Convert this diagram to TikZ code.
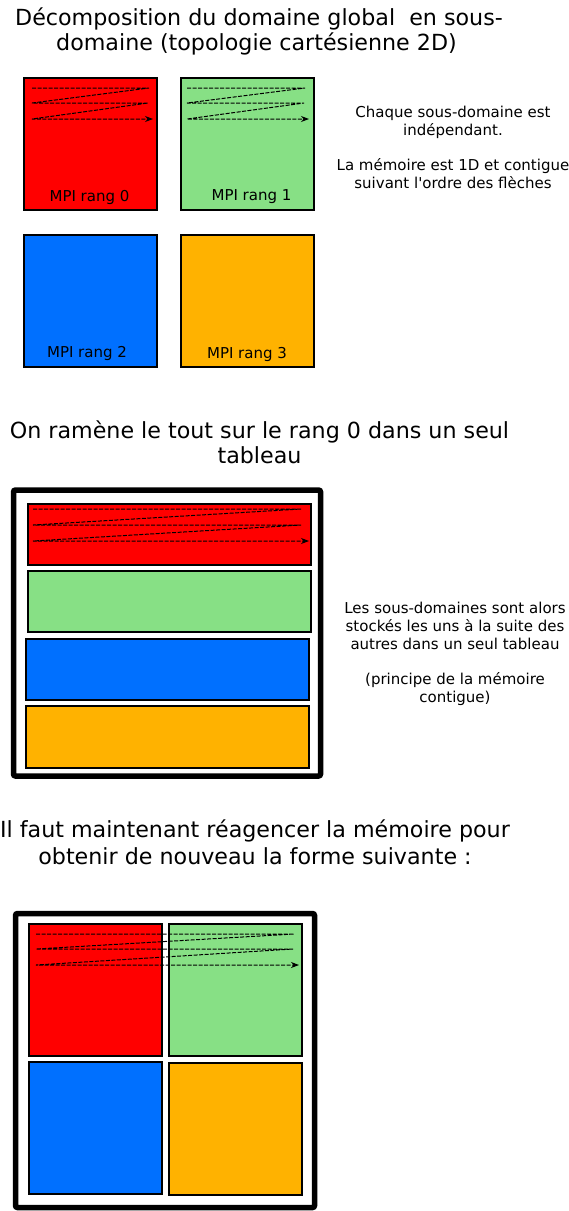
\documentclass[tikz,border=0pt]{standalone}
\usepackage{fontspec}
\setmainfont{DejaVu Sans}
\usetikzlibrary{arrows.meta}
\definecolor{cred}{HTML}{FF0000}
\definecolor{cgreen}{HTML}{87E085}
\definecolor{cblue}{HTML}{0070FF}
\definecolor{corange}{HTML}{FFB200}
\begin{document}
\begin{tikzpicture}[x=1pt,y=-1pt,
  box/.style={draw=black, line width=2pt, inner sep=0pt, outer sep=0pt},
  frame/.style={draw=black, line width=5.5pt, rounded corners=2pt, fill=white},
  zig/.style={dash pattern=on 4pt off 1.5pt, line width=1pt, line join=bevel},
  tip/.style={-{Stealth[length=8pt,width=6pt]}},
  title/.style={font=\fontsize{22.2}{26}\selectfont, anchor=base, inner sep=0pt},
  note/.style={font=\fontsize{15}{18}\selectfont, anchor=base, inner sep=0pt},
  lbl/.style={font=\fontsize{15}{18}\selectfont, anchor=base, inner sep=0pt}]
\useasboundingbox (0,0) rectangle (568,1211);

% ---------- Section 1 ----------
\node[title] (t1a) at (259,25) {Décomposition du domaine global\ \ en sous-};
\node[title] (t1b) at (256.5,50) {domaine (topologie cartésienne 2D)};

\node[box, fill=cred,    minimum width=133pt, minimum height=132pt] (r0) at (90.5,144) {};
\node[box, fill=cgreen,  minimum width=133pt, minimum height=132pt] (g1) at (247.5,144) {};
\node[box, fill=cblue,   minimum width=133pt, minimum height=132pt] (b2) at (90.5,301) {};
\node[box, fill=corange, minimum width=133pt, minimum height=132pt] (o3) at (247.5,301) {};

\node[lbl] (l0) at (89.5,201.5) {MPI rang 0};
\node[lbl] (l1) at (251.5,200) {MPI rang 1};
\node[lbl] (l2) at (87,357.5) {MPI rang 2};
\node[lbl] (l3) at (247,358) {MPI rang 3};

\coordinate (ra1) at (32,88);  \coordinate (ra2) at (149,88);
\coordinate (ra3) at (32,103); \coordinate (ra4) at (148,103);
\coordinate (ra5) at (32,119); \coordinate (ra6) at (153,119);
\draw[zig,tip] (ra1) -- (ra2) -- (ra3) -- (ra4) -- (ra5) -- (ra6);

\coordinate (ga1) at (187,88);  \coordinate (ga2) at (305,88);
\coordinate (ga3) at (187,103); \coordinate (ga4) at (304,103);
\coordinate (ga5) at (187,119); \coordinate (ga6) at (309,119);
\draw[zig,tip] (ga1) -- (ga2) -- (ga3) -- (ga4) -- (ga5) -- (ga6);

\node[note] (n1a) at (453,117) {Chaque sous-domaine est};
\node[note] (n1b) at (453,135) {indépendant.};
\node[note] (n1c) at (453,170) {La mémoire est 1D et contigue};
\node[note] (n1d) at (453,188) {suivant l\textquotesingle ordre des flèches};

% ---------- Section 2 ----------
\node[title] (t2a) at (259.5,438) {On ramène le tout sur le rang 0 dans un seul};
\node[title] (t2b) at (259.5,463) {tableau};

\node[frame, minimum width=307pt, minimum height=286pt, inner sep=0pt] (f2) at (167,633) {};
\node[box, fill=cred,    minimum width=282.5pt, minimum height=61pt] (s0) at (169.25,534.5) {};
\node[box, fill=cgreen,  minimum width=282.5pt, minimum height=61pt] (s1) at (169.25,601.25) {};
\node[box, fill=cblue,   minimum width=283pt,   minimum height=61pt] (s2) at (167.5,669.5) {};
\node[box, fill=corange, minimum width=283pt,   minimum height=61.5pt] (s3) at (167.75,737) {};

\coordinate (sa1) at (33,509);  \coordinate (sa2) at (301,509);
\coordinate (sa3) at (33,525);  \coordinate (sa4) at (301,525);
\coordinate (sa5) at (33,541);  \coordinate (sa6) at (309,541);
\draw[zig,tip] (sa1) -- (sa2) -- (sa3) -- (sa4) -- (sa5) -- (sa6);

\node[note] (n2a) at (455,613) {Les sous-domaines sont alors};
\node[note] (n2b) at (455,631) {stockés les uns à la suite des};
\node[note] (n2c) at (455,649) {autres dans un seul tableau};
\node[note] (n2d) at (455,684) {(principe de la mémoire};
\node[note] (n2e) at (455,702) {contigue)};

% ---------- Section 3 ----------
\node[title] (t3a) at (255,837) {Il faut maintenant réagencer la mémoire pour};
\node[title] (t3b) at (255,864) {obtenir de nouveau la forme suivante :};

\node[frame, minimum width=299pt, minimum height=294pt, inner sep=0pt] (f3) at (165,1060.5) {};
\node[box, fill=cred,    minimum width=133pt, minimum height=132pt] (q0) at (95,990) {};
\node[box, fill=cgreen,  minimum width=133pt, minimum height=132pt] (q1) at (235,990) {};
\node[box, fill=cblue,   minimum width=133pt, minimum height=132pt] (q2) at (95,1128) {};
\node[box, fill=corange, minimum width=133pt, minimum height=132pt] (q3) at (235,1129) {};

\coordinate (qa1) at (36,934);  \coordinate (qa2) at (294,934);
\coordinate (qa3) at (36,949);  \coordinate (qa4) at (293,949);
\coordinate (qa5) at (36,965);  \coordinate (qa6) at (299,965);
\draw[zig,tip] (qa1) -- (qa2) -- (qa3) -- (qa4) -- (qa5) -- (qa6);
\end{tikzpicture}
\end{document}
